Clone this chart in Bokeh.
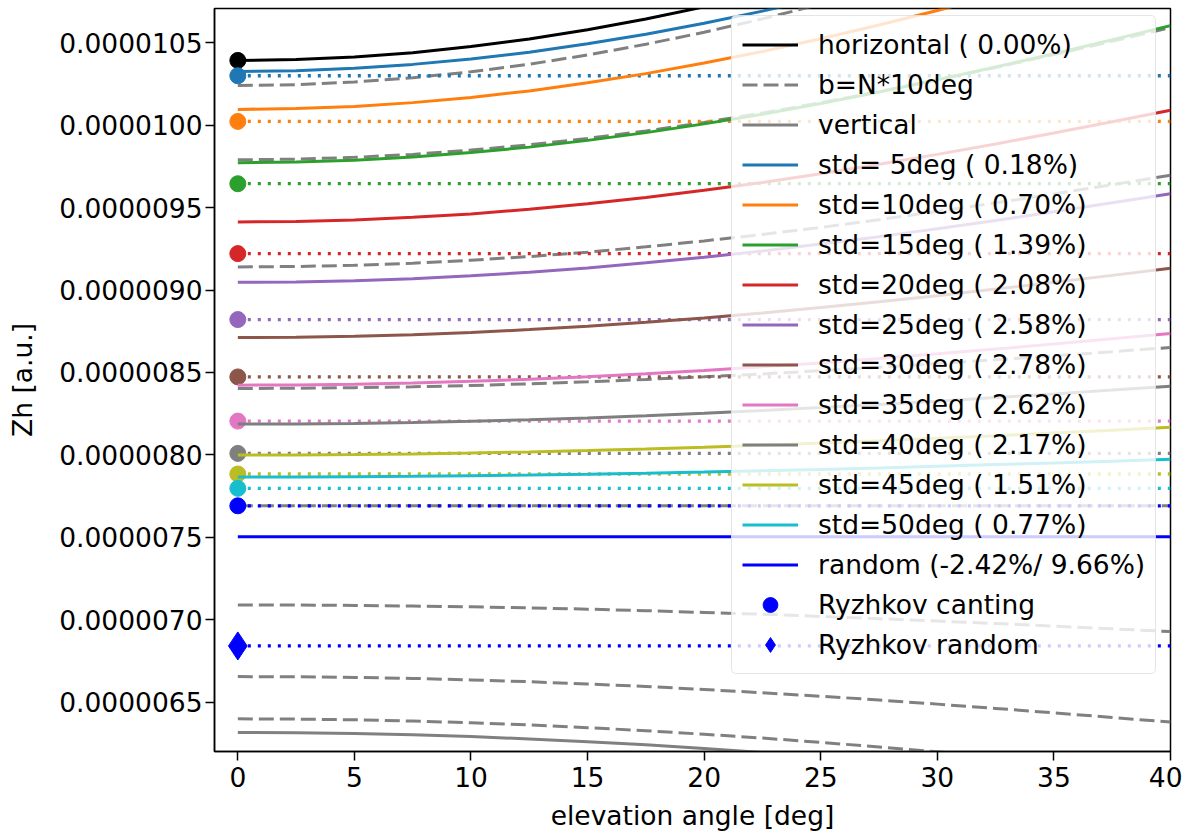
from bokeh.plotting import figure
from bokeh.models import Range1d, FixedTicker, Legend, LegendItem, PrintfTickFormatter
from bokeh.embed import file_html
from bokeh.resources import INLINE
from bokeh.core.properties import value

SCALE = 1e-6  # values below are in units of 1e-6

angles = [0, 2.5, 5, 7.5, 10, 12.5, 15, 17.5, 20, 22.5, 25, 27.5, 30, 32.5, 35, 37.5, 40]

horizontal = [10.393, 10.398, 10.414, 10.440, 10.477, 10.523, 10.579, 10.644, 10.718,
              10.800, 10.890, 10.986, 11.088, 11.196, 11.308, 11.423, 11.542]

b10 = [10.241, 10.246, 10.262, 10.288, 10.324, 10.370, 10.426, 10.491, 10.564,
       10.645, 10.734, 10.829, 10.931, 11.038, 11.149, 11.264, 11.381]
b20 = [9.790, 9.794, 9.805, 9.823, 9.849, 9.881, 9.920, 9.965, 10.017,
       10.074, 10.137, 10.204, 10.275, 10.350, 10.428, 10.509, 10.592]
b30 = [9.140, 9.143, 9.150, 9.163, 9.181, 9.203, 9.230, 9.262, 9.298,
       9.337, 9.380, 9.427, 9.477, 9.529, 9.583, 9.639, 9.696]
b40 = [8.403, 8.404, 8.408, 8.413, 8.421, 8.431, 8.443, 8.458, 8.474,
       8.491, 8.511, 8.532, 8.554, 8.577, 8.601, 8.626, 8.652]
b50 = [7.691, 7.691, 7.691, 7.691, 7.691, 7.691, 7.691, 7.691, 7.691,
       7.691, 7.691, 7.691, 7.691, 7.691, 7.691, 7.691, 7.691]
b60 = [7.090, 7.089, 7.087, 7.083, 7.078, 7.072, 7.064, 7.055, 7.044,
       7.033, 7.020, 7.006, 6.992, 6.977, 6.961, 6.945, 6.928]
b70 = [6.655, 6.654, 6.650, 6.644, 6.635, 6.624, 6.610, 6.595, 6.577,
       6.557, 6.536, 6.513, 6.488, 6.462, 6.435, 6.407, 6.379]
b80 = [6.399, 6.397, 6.393, 6.385, 6.375, 6.362, 6.345, 6.327, 6.305,
       6.282, 6.256, 6.228, 6.199, 6.168, 6.136, 6.103, 6.068]

vertical = [6.316, 6.314, 6.310, 6.302, 6.291, 6.277, 6.260, 6.241, 6.219,
            6.194, 6.168, 6.139, 6.109, 6.076, 6.043, 6.008, 5.973]

std05 = [10.326, 10.331, 10.345, 10.369, 10.401, 10.443, 10.494, 10.552, 10.619,
         10.692, 10.773, 10.859, 10.951, 11.048, 11.149, 11.252, 11.359]
std10 = [10.096, 10.101, 10.114, 10.137, 10.168, 10.208, 10.257, 10.313, 10.377,
         10.447, 10.525, 10.608, 10.696, 10.789, 10.886, 10.985, 11.088]
std15 = [9.773, 9.777, 9.788, 9.807, 9.834, 9.867, 9.908, 9.955, 10.008,
         10.067, 10.132, 10.202, 10.276, 10.353, 10.434, 10.518, 10.604]
std20 = [9.413, 9.416, 9.425, 9.441, 9.462, 9.490, 9.523, 9.561, 9.605,
         9.653, 9.706, 9.763, 9.823, 9.886, 9.953, 10.021, 10.091]
std25 = [9.047, 9.049, 9.057, 9.069, 9.086, 9.108, 9.134, 9.165, 9.199,
         9.237, 9.279, 9.324, 9.372, 9.422, 9.475, 9.529, 9.584]
std30 = [8.712, 8.714, 8.720, 8.729, 8.743, 8.760, 8.780, 8.804, 8.831,
         8.861, 8.894, 8.929, 8.966, 9.006, 9.047, 9.089, 9.132]
std35 = [8.423, 8.424, 8.429, 8.436, 8.446, 8.459, 8.474, 8.492, 8.512,
         8.534, 8.558, 8.585, 8.613, 8.642, 8.672, 8.704, 8.736]
std40 = [8.187, 8.188, 8.191, 8.196, 8.204, 8.213, 8.224, 8.237, 8.252,
         8.269, 8.287, 8.306, 8.326, 8.348, 8.370, 8.393, 8.417]
std45 = [7.999, 8.000, 8.002, 8.006, 8.011, 8.018, 8.026, 8.036, 8.047,
         8.059, 8.072, 8.086, 8.101, 8.116, 8.133, 8.150, 8.167]
std50 = [7.866, 7.866, 7.868, 7.870, 7.874, 7.878, 7.883, 7.889, 7.896,
         7.904, 7.912, 7.921, 7.931, 7.941, 7.951, 7.962, 7.973]

random_line = [7.504, 7.504, 7.504, 7.504, 7.504, 7.504, 7.504, 7.504, 7.504,
               7.504, 7.504, 7.504, 7.504, 7.504, 7.504, 7.504, 7.504]

std_labels = ["std= 5deg ( 0.18%)", "std=10deg ( 0.70%)", "std=15deg ( 1.39%)",
              "std=20deg ( 2.08%)", "std=25deg ( 2.58%)", "std=30deg ( 2.78%)",
              "std=35deg ( 2.62%)", "std=40deg ( 2.17%)", "std=45deg ( 1.51%)",
              "std=50deg ( 0.77%)"]
std_colors = ["#1f77b4", "#ff7f0e", "#2ca02c", "#d62728", "#9467bd",
              "#8c564b", "#e377c2", "#7f7f7f", "#bcbd22", "#17becf"]

ryzhkov_horizontal = 10.393
ryzhkov_std = [10.300, 10.023, 9.645, 9.221, 8.821, 8.473, 8.205, 8.009, 7.884, 7.797]
ryzhkov_canting_random = 7.691
ryzhkov_random = 6.841

yticks = [6.5, 7.0, 7.5, 8.0, 8.5, 9.0, 9.5, 10.0, 10.5]
xticks = [0, 5, 10, 15, 20, 25, 30, 35, 40]

FONT = "DejaVu Sans"
FS = "26.5px"
GRAY = "#808080"
LW = 3
DOT = "3 7"
DASH = "15 6"


def sc(vals):
    return [v * SCALE for v in vals]


p = figure(width=1182, height=833, output_backend="svg", toolbar_location=None,
           x_range=Range1d(-1, 40), y_range=Range1d(6.2006e-6, 10.708e-6),
           min_border_left=214, min_border_right=12, min_border_top=8,
           min_border_bottom=81)
p.grid.visible = False
p.background_fill_color = "white"
p.border_fill_color = "white"
p.outline_line_color = "black"
p.outline_line_width = 1.5
p.outline_line_alpha = 1.0

xend = [angles[0], angles[-1]]

# horizontal
r_h = p.line(angles, sc(horizontal), line_color="black", line_width=LW)
p.scatter([angles[0]], [ryzhkov_horizontal * SCALE], marker="circle", size=16, color="black")

# b = N*10deg
b_renderers = []
for series in [b10, b20, b30, b40, b50, b60, b70, b80]:
    b_renderers.append(p.line(angles, sc(series), line_color=GRAY, line_width=LW,
                              line_dash=DASH))

# vertical
r_v = p.line(angles, sc(vertical), line_color=GRAY, line_width=LW)

std_series = [std05, std10, std15, std20, std25, std30, std35, std40, std45, std50]
std_renderers = []
for series, col, rz in zip(std_series, std_colors, ryzhkov_std):
    std_renderers.append(p.line(angles, sc(series), line_color=col, line_width=LW))
    p.scatter([angles[0]], [rz * SCALE], marker="circle", size=16, color=col)
    p.line(xend, [rz * SCALE, rz * SCALE], line_color=col, line_width=3.3, line_dash=DOT)

# random
r_rand = p.line(angles, sc(random_line), line_color="blue", line_width=LW)
r_rc = p.scatter([angles[0]], [ryzhkov_canting_random * SCALE], marker="circle", size=16, color="blue")
p.line(xend, [ryzhkov_canting_random * SCALE] * 2, line_color="blue", line_width=3.3, line_dash=DOT)
r_rr = p.scatter([angles[0]], [ryzhkov_random * SCALE], marker="diamond", size=28, color="blue")
p.line(xend, [ryzhkov_random * SCALE] * 2, line_color="blue", line_width=3.3, line_dash=DOT)

# axes
for ax in (p.xaxis[0], p.yaxis[0]):
    ax.major_tick_out = 9
    ax.major_tick_in = 0
    ax.minor_tick_out = 0
    ax.minor_tick_in = 0
    ax.axis_line_width = 1.5
    ax.major_tick_line_width = 1.5
    ax.major_label_text_font = FONT
    ax.major_label_text_font_size = FS
    ax.major_label_text_color = "black"
    ax.axis_label_text_font = FONT
    ax.axis_label_text_font_size = FS
    ax.axis_label_text_font_style = "normal"
    ax.axis_label_text_color = "black"

p.xaxis.ticker = FixedTicker(ticks=xticks, minor_ticks=[])
p.xaxis.major_label_standoff = 6
p.xaxis.axis_label = "elevation angle [deg]"
p.xaxis.axis_label_standoff = 10

p.yaxis.ticker = FixedTicker(ticks=sc(yticks), minor_ticks=[])
p.yaxis.formatter = PrintfTickFormatter(format="%.7f")
p.yaxis.major_label_standoff = 3
p.yaxis.axis_label = "Zh [a.u.]"
p.yaxis.axis_label_standoff = 18

items = [LegendItem(label=value("horizontal ( 0.00%)"), renderers=[r_h]),
         LegendItem(label=value("b=N*10deg"), renderers=[b_renderers[0]]),
         LegendItem(label=value("vertical"), renderers=[r_v])]
for lab, r in zip(std_labels, std_renderers):
    items.append(LegendItem(label=value(lab), renderers=[r]))
items += [LegendItem(label=value("random (-2.42%/ 9.66%)"), renderers=[r_rand]),
          LegendItem(label=value("Ryzhkov canting"), renderers=[r_rc]),
          LegendItem(label=value("Ryzhkov random"), renderers=[r_rr])]

legend = Legend(items=items, location=(517, 77))
legend.margin = 0
legend.padding = 10
legend.spacing = 3
legend.label_height = 37
legend.glyph_height = 37
legend.glyph_width = 56
legend.label_standoff = 20
legend.label_text_font = FONT
legend.label_text_font_size = FS
legend.label_text_color = "black"
legend.background_fill_color = "white"
legend.background_fill_alpha = 0.8
legend.border_line_color = "#cccccc"
legend.border_line_width = 1
if "border_radius" in Legend.properties():
    legend.border_radius = 5
p.add_layout(legend)

open("out.html", "w").write(file_html(p, INLINE))
